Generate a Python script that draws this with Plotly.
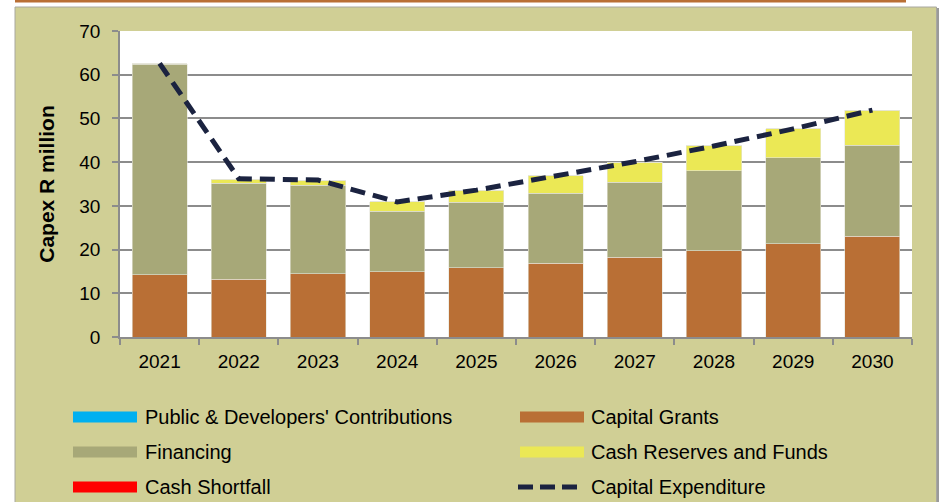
import plotly.graph_objects as go

years = ["2021", "2022", "2023", "2024", "2025", "2026", "2027", "2028", "2029", "2030"]
public_contrib = [0, 0, 0, 0, 0, 0, 0, 0, 0, 0]
capital_grants = [14.2, 13.2, 14.5, 14.9, 15.8, 16.9, 18.3, 19.7, 21.3, 23.1]
financing = [48.2, 22.0, 20.2, 13.9, 15.0, 16.0, 17.1, 18.3, 19.7, 20.8]
cash_reserves = [0.1, 0.9, 1.1, 2.1, 2.8, 4.0, 4.6, 5.7, 6.6, 8.0]
cash_shortfall = [0, 0, 0, 0, 0, 0, 0, 0, 0, 0]
capital_expenditure = [62.6, 36.2, 35.9, 30.9, 33.6, 36.9, 40.1, 43.7, 47.6, 51.9]

names = ["Public & Developers' Contributions", "Capital Grants", "Financing",
         "Cash Reserves and Funds", "Cash Shortfall", "Capital Expenditure"]
colors = {"Public & Developers' Contributions": "#00B0F0",
          "Capital Grants": "#B96F35",
          "Financing": "#A7A878",
          "Cash Reserves and Funds": "#EBE855",
          "Cash Shortfall": "#FF0000",
          "Capital Expenditure": "#1B2340"}

W, H = 947, 502
L, R, T, B = 120, 35, 31, 165
PW, PH = W - L - R, H - T - B


def px_x(p):
    return (p - L) / PW


def px_y(p):
    return (H - B - p) / PH


FONT = "Liberation Sans, Arial, sans-serif"

fig = go.Figure()
bar_series = [
    ("Public & Developers' Contributions", public_contrib),
    ("Capital Grants", capital_grants),
    ("Financing", financing),
    ("Cash Reserves and Funds", cash_reserves),
    ("Cash Shortfall", cash_shortfall),
]
for nm, vals in bar_series:
    fig.add_trace(go.Bar(x=years, y=vals, name=nm, showlegend=False,
                         marker=dict(color=colors[nm], line=dict(color="#E4E4D8", width=0.6))))
fig.add_trace(go.Scatter(x=years, y=capital_expenditure, name="Capital Expenditure",
                         mode="lines", showlegend=False,
                         line=dict(color=colors["Capital Expenditure"], width=5, dash="15px,8px")))

shapes = []
# top orange rule
shapes.append(dict(type="rect", xref="paper", yref="paper", layer="below",
                   x0=px_x(15), x1=px_x(906), y0=px_y(0), y1=px_y(2.5),
                   fillcolor="#B96F35", line=dict(width=0)))
# olive panel shadow
shapes.append(dict(type="rect", xref="paper", yref="paper", layer="below",
                   x0=px_x(16), x1=px_x(939), y0=px_y(510), y1=px_y(8),
                   fillcolor="#9A9A9A", line=dict(width=0)))
# olive panel
shapes.append(dict(type="rect", xref="paper", yref="paper", layer="below",
                   x0=px_x(15), x1=px_x(936.5), y0=px_y(510), y1=px_y(7),
                   fillcolor="#D0CF95", line=dict(color="#A8A8A0", width=1)))
# plot area white
shapes.append(dict(type="rect", xref="paper", yref="paper", layer="below",
                   x0=0, x1=1, y0=0, y1=1, fillcolor="white", line=dict(width=0)))

# manual legend
legend_rows = [417, 452, 487]
col_sw = [(73, 137), (520, 584)]
col_tx = [143, 589]
annotations = []
for i, nm in enumerate(names):
    r, c = divmod(i, 2)
    yc = legend_rows[r]
    x0, x1 = col_sw[c]
    if nm == "Capital Expenditure":
        shapes.append(dict(type="line", xref="paper", yref="paper",
                           x0=px_x(x0 - 2), x1=px_x(x1 - 4), y0=px_y(yc), y1=px_y(yc),
                           line=dict(color=colors[nm], width=5, dash="15px,7px")))
    else:
        shapes.append(dict(type="rect", xref="paper", yref="paper",
                           x0=px_x(x0), x1=px_x(x1), y0=px_y(yc + 5.5), y1=px_y(yc - 5.5),
                           fillcolor=colors[nm], line=dict(width=0)))
    annotations.append(dict(xref="paper", yref="paper", x=px_x(col_tx[c]), y=px_y(yc),
                            xanchor="left", yanchor="middle", showarrow=False, text=nm,
                            font=dict(family=FONT, size=20, color="#000000")))

fig.update_layout(
    width=W, height=H,
    margin=dict(l=L, r=R, t=T, b=B, autoexpand=False),
    paper_bgcolor="white", plot_bgcolor="rgba(0,0,0,0)",
    barmode="stack", bargap=0.305,
    showlegend=False,
    shapes=shapes, annotations=annotations,
    font=dict(family=FONT, size=19, color="#000000"),
    xaxis=dict(type="category", showgrid=False, showline=True, linecolor="#8C8C8C", linewidth=1.5,
               ticks="outside", tickson="boundaries", ticklen=6, tickcolor="#8C8C8C", tickwidth=1.5,
               tickfont=dict(family=FONT, size=19, color="#000000"), ticklabelstandoff=6,
               automargin=False),
    yaxis=dict(range=[0, 70], dtick=10, showgrid=True, gridcolor="#8C8C8C", gridwidth=1.5,
               showline=True, linecolor="#8C8C8C", linewidth=1.5, zeroline=False,
               ticks="outside", ticklen=6, tickcolor="#8C8C8C", tickwidth=1.5,
               tickfont=dict(family=FONT, size=19, color="#000000"), ticklabelstandoff=8,
               title=dict(text="<b>Capex R million</b>", standoff=19,
                          font=dict(family=FONT, size=21, color="#000000")),
               automargin=False),
)

fig.write_html("out.html", config={"displayModeBar": False},
               post_script="document.body.style.margin='0';document.body.style.overflow='hidden';")
